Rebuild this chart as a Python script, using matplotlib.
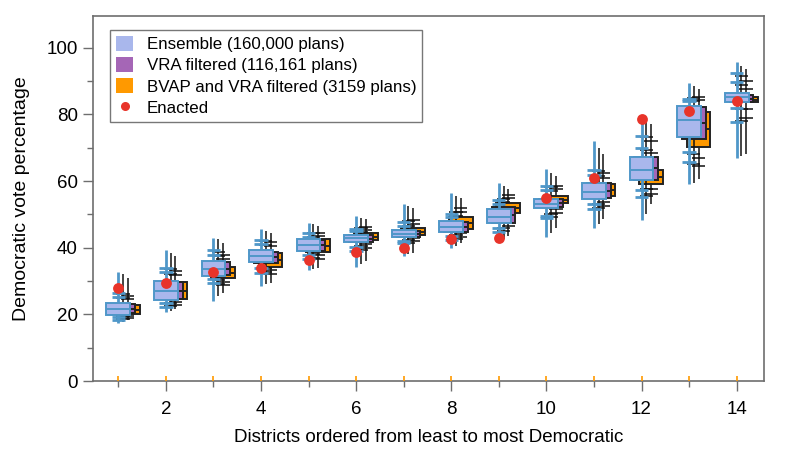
import numpy as np
import matplotlib
matplotlib.use("Agg")
import matplotlib.pyplot as plt
from matplotlib.patches import Patch
from matplotlib.lines import Line2D
from matplotlib.ticker import MultipleLocator

plt.rcParams['font.family'] = ['Liberation Sans', 'DejaVu Sans']

districts = np.arange(1, 15)

# Ensemble (160,000 plans)
ens_lo  = [17.4, 20.7, 24.0, 28.5, 33.3, 34.3, 37.5, 39.9, 41.8, 43.3, 45.8, 48.3, 59.2, 66.9]
ens_lo2 = [18.3, 22.3, 29.5, 32.5, 36.5, 39.1, 41.3, 42.3, 44.7, 48.9, 51.7, 55.2, 65.6, 77.6]
ens_lo1 = [19.2, 23.3, 30.5, 33.8, 37.8, 40.3, 42.1, 43.5, 45.8, 49.5, 53.1, 57.4, 68.8, 81.9]
ens_q1  = [19.9, 24.4, 31.5, 35.7, 39.1, 41.7, 43.2, 44.7, 47.4, 52.0, 54.5, 60.4, 73.3, 83.8]
ens_med = [21.6, 27.1, 33.6, 37.5, 40.8, 42.8, 44.2, 46.3, 49.3, 53.2, 56.8, 63.4, 78.4, 85.2]
ens_q3  = [23.3, 29.9, 36.0, 39.3, 42.5, 43.9, 45.3, 48.0, 51.6, 54.5, 59.5, 67.2, 82.6, 86.4]
ens_hi1 = [25.2, 32.6, 37.8, 41.1, 43.3, 44.9, 46.5, 49.1, 53.2, 57.4, 61.7, 69.9, 83.9, 89.6]
ens_hi2 = [26.4, 34.0, 39.3, 42.3, 44.5, 45.7, 47.8, 50.2, 54.4, 58.6, 63.2, 73.6, 84.6, 92.4]
ens_hi  = [32.7, 39.3, 43.0, 45.5, 47.4, 49.5, 53.2, 56.3, 59.5, 63.7, 72.1, 77.9, 89.4, 95.6]

# VRA filtered (116,161 plans)
vra_lo  = [17.6, 21.0, 25.5, 29.0, 33.5, 35.0, 38.0, 40.5, 42.5, 44.5, 47.0, 50.0, 59.5, 67.5]
vra_lo2 = [18.5, 22.5, 29.0, 32.8, 36.8, 39.3, 41.5, 42.6, 45.0, 49.3, 52.0, 55.6, 65.0, 78.0]
vra_lo1 = [19.4, 23.4, 30.3, 34.0, 38.0, 40.5, 42.3, 43.7, 46.0, 50.2, 53.2, 57.7, 68.0, 81.5]
vra_q1  = [20.4, 24.5, 31.7, 35.5, 39.1, 41.7, 43.3, 44.7, 47.5, 52.3, 54.8, 60.4, 72.7, 83.6]
vra_med = [21.7, 27.1, 33.7, 37.2, 40.7, 42.7, 44.2, 46.2, 49.9, 53.4, 57.1, 63.8, 77.5, 84.7]
vra_q3  = [23.0, 29.6, 35.7, 38.8, 42.2, 43.7, 45.1, 47.7, 52.3, 54.5, 59.5, 67.2, 82.2, 85.8]
vra_hi1 = [25.0, 32.2, 37.5, 40.8, 43.2, 44.8, 46.6, 49.5, 53.6, 57.0, 61.5, 69.4, 84.0, 88.8]
vra_hi2 = [26.2, 33.6, 38.8, 42.0, 44.3, 45.8, 47.9, 50.6, 54.6, 58.2, 63.0, 73.3, 85.0, 91.5]
vra_hi  = [32.0, 38.5, 42.5, 45.0, 47.0, 49.0, 52.5, 55.5, 58.5, 62.5, 70.0, 79.0, 88.5, 94.5]

# BVAP and VRA filtered (3159 plans)
bvap_lo  = [18.2, 21.5, 26.5, 29.5, 34.0, 36.0, 38.5, 41.5, 43.5, 46.0, 48.5, 53.0, 60.7, 68.0]
bvap_lo2 = [18.8, 22.8, 28.8, 32.0, 36.6, 40.0, 42.0, 43.2, 46.5, 50.5, 52.5, 56.2, 64.5, 79.0]
bvap_lo1 = [19.5, 23.6, 29.8, 33.2, 37.7, 41.0, 42.8, 44.3, 48.0, 51.5, 53.8, 57.7, 67.0, 81.5]
bvap_q1  = [20.1, 24.5, 30.8, 34.2, 38.8, 42.3, 43.9, 45.6, 50.3, 53.3, 55.4, 59.2, 70.2, 83.6]
bvap_med = [21.4, 27.0, 32.5, 36.3, 40.6, 43.3, 44.8, 47.4, 51.9, 54.4, 57.3, 61.3, 75.5, 84.4]
bvap_q3  = [22.8, 29.6, 34.3, 38.5, 42.5, 44.3, 45.8, 49.3, 53.5, 55.6, 59.2, 63.4, 80.6, 85.2]
bvap_hi1 = [24.5, 31.8, 36.5, 40.5, 43.5, 45.3, 47.2, 50.8, 54.8, 57.5, 61.0, 68.5, 84.2, 87.5]
bvap_hi2 = [25.6, 33.0, 37.7, 41.6, 44.5, 46.2, 48.3, 51.8, 55.8, 58.5, 62.5, 72.0, 85.2, 90.0]
bvap_hi  = [31.0, 37.5, 41.5, 44.5, 46.5, 48.5, 52.0, 55.0, 57.5, 61.5, 68.0, 77.0, 87.5, 93.5]

enacted = [28.0, 29.5, 32.7, 34.0, 36.3, 38.6, 39.8, 42.5, 43.0, 55.0, 60.8, 78.7, 80.9, 84.1]

labels = ["Ensemble (160,000 plans)", "VRA filtered (116,161 plans)",
          "BVAP and VRA filtered (3159 plans)", "Enacted"]

blue_fill, blue_edge = "#a9b7ec", "#4f97c9"
purple_fill = "#a566b6"
orange_fill = "#ff9900"
red = "#e8342a"
spine_col = "#6e6e6e"

fig = plt.figure(figsize=(7.89, 4.51), dpi=100)
ax = fig.add_axes([0.118, 0.155, 0.850, 0.810])

box_w = 0.5
hw = 0.14


def draw_series(off, lo, lo2, lo1, q1, med, q3, hi1, hi2, hi, fill, edge, lcol, lw, z):
    x = districts + off
    q1a, q3a = np.array(q1), np.array(q3)
    ax.vlines(x, lo, hi, colors=lcol, lw=lw, zorder=z)
    for h in (lo2, lo1, hi1, hi2):
        ax.hlines(h, x - hw, x + hw, colors=lcol, lw=lw, zorder=z)
    ax.bar(x, q3a - q1a, bottom=q1a, width=box_w, color=fill, edgecolor=edge,
           linewidth=1.4, zorder=z + 0.1)
    ax.hlines(med, x - box_w / 2, x + box_w / 2, colors=edge, lw=1.4, zorder=z + 0.2)


draw_series(0.2, bvap_lo, bvap_lo2, bvap_lo1, bvap_q1, bvap_med, bvap_q3,
            bvap_hi1, bvap_hi2, bvap_hi, orange_fill, "#222222", "#111111", 1.1, 1)
draw_series(0.1, vra_lo, vra_lo2, vra_lo1, vra_q1, vra_med, vra_q3,
            vra_hi1, vra_hi2, vra_hi, purple_fill, "#222222", "#111111", 1.1, 2)
draw_series(0.0, ens_lo, ens_lo2, ens_lo1, ens_q1, ens_med, ens_q3,
            ens_hi1, ens_hi2, ens_hi, blue_fill, blue_edge, blue_edge, 2.0, 3)

ax.plot(districts, enacted, 'o', color=red, ms=7.8, mec='none', zorder=5)
ax.plot(districts, np.zeros(len(districts)), ls='none', marker=2, color=orange_fill,
        ms=3.5, mew=1.2, zorder=5, clip_on=False)

ax.set_xlim(0.47, 14.57)
ax.set_ylim(0, 109.6)
ax.xaxis.set_major_locator(MultipleLocator(2))
ax.xaxis.set_minor_locator(MultipleLocator(1))
ax.yaxis.set_major_locator(MultipleLocator(20))
ax.yaxis.set_minor_locator(MultipleLocator(10))
ax.set_xticks(np.arange(2, 15, 2))
for s in ax.spines.values():
    s.set_color(spine_col)
    s.set_linewidth(1.2)
ax.tick_params(which='major', length=7, width=1, color=spine_col, labelsize=13.5,
               direction='out', pad=4)
ax.tick_params(which='minor', length=4, width=1, color=spine_col, direction='out')
ax.tick_params(axis='x', pad=7)

ax.set_xlabel("Districts ordered from least to most Democratic", fontsize=13.5, labelpad=8)
ax.set_ylabel("Democratic vote percentage", fontsize=14, labelpad=12)

handles = [Patch(facecolor=blue_fill, edgecolor='none'),
           Patch(facecolor=purple_fill, edgecolor='none'),
           Patch(facecolor=orange_fill, edgecolor='none'),
           Line2D([], [], marker='o', ls='none', color=red, ms=6.5, mec='none')]
leg = ax.legend(handles, labels, loc='upper left', bbox_to_anchor=(0.018, 0.975),
                fontsize=12.2, frameon=True, fancybox=False, handlelength=1.0,
                handleheight=1.0, handletextpad=0.8, labelspacing=0.28,
                borderpad=0.35, borderaxespad=0.3)
leg.get_frame().set_edgecolor("#555555")
leg.get_frame().set_linewidth(1.0)

fig.savefig("out.png", dpi=100)
